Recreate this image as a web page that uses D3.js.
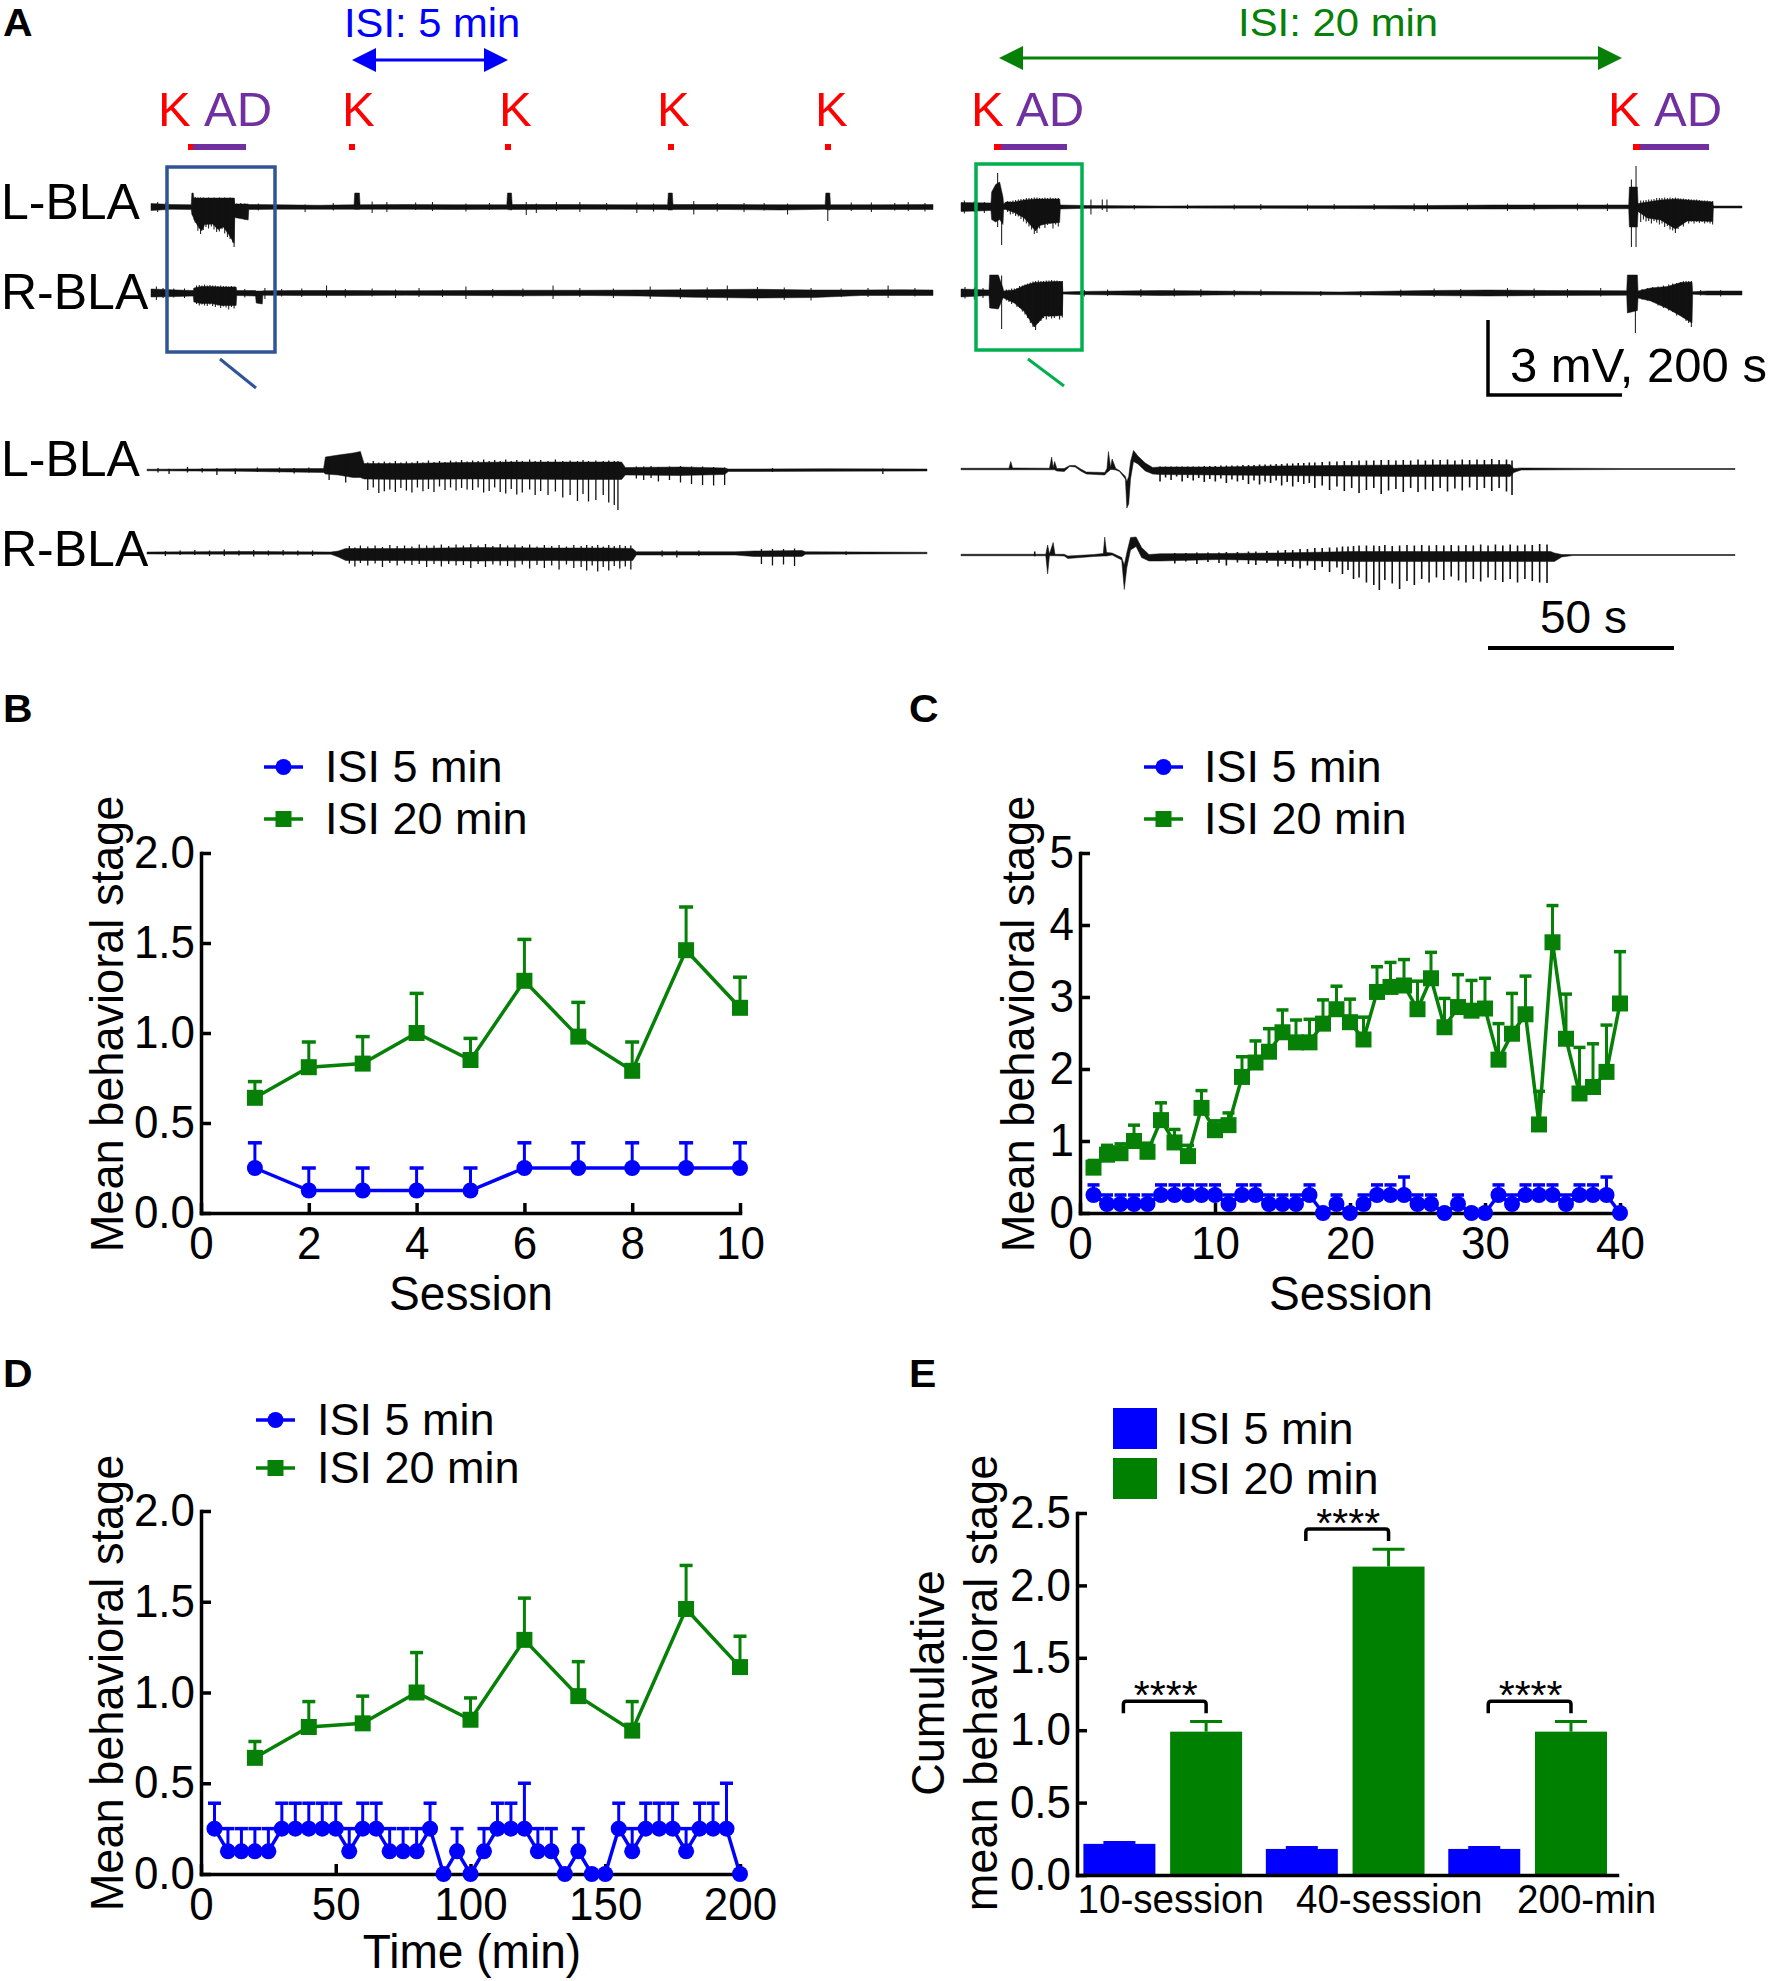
<!DOCTYPE html>
<html>
<head>
<meta charset="utf-8">
<script src="https://cdn.jsdelivr.net/npm/d3@7"></script>
<style>
  html, body { margin: 0; padding: 0; background: #fff; }
  svg { display: block; }
  text { font-family: "Liberation Sans", Arial, sans-serif; }
</style>
</head>
<body>
<div id="chart"></div>
<script>
// ---- behaviour data ----
const seriesNames = ["ISI 5 min", "ISI 20 min"];

const sessions10 = [1, 2, 3, 4, 5, 6, 7, 8, 9, 10];
const stage10Isi5 = [.25, .125, .125, .125, .125, .25, .25, .25, .25, .25];
const upper10Isi5 = [.39, .25, .25, .25, .25, .39, .39, .39, .39, .39];
const stage10Isi20 = [.64, .81, .83, 1.0, .85, 1.29, .98, .79, 1.46, 1.14];
const upper10Isi20 = [.73, .95, .98, 1.22, .97, 1.52, 1.17, .95, 1.70, 1.31];

const sessions40 = d3.range(1, 41);
const stage40Isi5 = [.25, .125, .125, .125, .125, .25, .25, .25, .25, .25,
  .125, .25, .25, .125, .125, .125, .25, 0, .125, 0,
  .125, .25, .25, .25, .125, .125, 0, .125, 0, 0,
  .25, .125, .25, .25, .25, .125, .25, .25, .25, 0];
const upper40Isi5 = [.39, .25, .25, .25, .25, .39, .39, .39, .39, .39,
  .25, .39, .39, .25, .25, .25, .39, 0, .25, 0,
  .25, .39, .39, .5, .25, .25, 0, .25, 0, 0,
  .39, .25, .39, .39, .39, .25, .39, .39, .5, 0];
const stage40Isi20 = [.63, .81, .83, 1.0, .85, 1.29, .98, .79, 1.46, 1.15,
  1.22, 1.89, 2.09, 2.24, 2.51, 2.37, 2.37, 2.63, 2.83, 2.65,
  2.41, 3.07, 3.14, 3.16, 2.83, 3.26, 2.58, 2.86, 2.81, 2.84,
  2.13, 2.49, 2.76, 1.23, 3.76, 2.42, 1.66, 1.75, 1.96, 2.91];
const upper40Isi20 = [.73, .94, .96, 1.22, .97, 1.53, 1.16, .94, 1.70, 1.28,
  1.39, 2.17, 2.39, 2.56, 2.82, 2.68, 2.69, 2.96, 3.15, 2.97,
  2.72, 3.42, 3.48, 3.52, 3.22, 3.62, 2.98, 3.31, 3.23, 3.26,
  2.63, 3.05, 3.29, 1.69, 4.27, 3.04, 2.30, 2.35, 2.61, 3.63];

const minutes5 = d3.range(5, 201, 5);
const minutes20 = d3.range(20, 201, 20);

const groupNames = ["10-session", "40-session", "200-min"];
const cumulativeIsi5 = [.215, .18, .18];
const cumulativeIsi5Upper = [.225, .19, .19];
const cumulativeIsi20 = [.99, 2.13, .99];
const cumulativeIsi20Upper = [1.06, 2.25, 1.06];
const bracketTops = [1.2, 2.39, 1.2];

// ---- recordings: envelope [t s, top mV, bottom mV], hairs [t s, top mV, bottom mV] ----
const overviewLeftL = [[0,.14,-.14],[30,.1,-.09],[60,.09,-.1],[61,.56,-.3],[63,.56,-.4],[64,.36,-.5],[72,.36,-.85],[76,.36,-.95],[80,.36,-.7],[92,.36,-.68],[100,.36,-.9],[108,.36,-.8],[116,.36,-1.1],[124,.36,-1.45],[125,.12,-.42],[145,.12,-.52],[146,.1,-.1],[190,.09,-.09],[250,.07,-.09],[303,.09,-.09],[304,.56,-.1],[311,.56,-.1],[312,.09,-.09],[380,.1,-.09],[450,.09,-.1],[531,.09,-.09],[532,.56,-.1],[538,.56,-.12],[539,.1,-.1],[620,.1,-.09],[700,.09,-.09],[771,.09,-.1],[772,.56,-.12],[778,.56,-.12],[779,.1,-.1],[860,.1,-.1],[940,.09,-.12],[1006,.09,-.09],[1007,.56,-.1],[1013,.56,-.12],[1014,.09,-.1],[1090,.09,-.1],[1167,.1,-.1]];
const overviewLeftLHairs = [[10,.2,-.2],[22,.18,-.14],[66,.4,-.62],[70,.38,-.95],[74,.38,-1.08],[78,.38,-.92],[82,.36,-.8],[86,.38,-.86],[90,.36,-.78],[94,.38,-.9],[98,.36,-1.0],[102,.38,-.98],[106,.36,-.88],[110,.38,-1.06],[114,.36,-1.2],[118,.38,-1.28],[122,.36,-1.42],[124,.36,-1.6],[128,.14,-.36],[134,.16,-.44],[140,.14,-.5],[160,.14,-.14],[185,.2,-.1],[230,.1,-.2],[272,.16,-.14],[330,.22,-.24],[352,.2,-.2],[395,.18,-.12],[420,.2,-.16],[470,.14,-.18],[505,.16,-.12],[560,.2,-.32],[575,.14,-.24],[605,.2,-.16],[640,.2,-.2],[680,.16,-.14],[725,.18,-.24],[750,.14,-.18],[810,.24,-.3],[845,.16,-.18],[885,.16,-.2],[915,.16,-.14],[950,.14,-.3],[1010,.56,-.56],[1045,.18,-.16],[1075,.18,-.2],[1110,.16,-.14],[1130,.2,-.16],[1155,.16,-.18]];
const overviewLeftR = [[0,.16,-.16],[40,.12,-.14],[63,.1,-.12],[64,.2,-.36],[75,.26,-.42],[90,.26,-.42],[105,.24,-.5],[127,.24,-.5],[128,.1,-.1],[156,.1,-.12],[157,.08,-.4],[166,.08,-.44],[167,.09,-.09],[220,.1,-.1],[300,.1,-.1],[380,.09,-.09],[470,.1,-.1],[560,.11,-.11],[650,.11,-.1],[730,.12,-.12],[810,.13,-.17],[900,.15,-.2],[990,.12,-.18],[1060,.12,-.1],[1120,.13,-.1],[1167,.12,-.1]];
const overviewLeftRHairs = [[8,.26,-.28],[18,.2,-.2],[34,.18,-.18],[50,.18,-.2],[68,.3,-.44],[72,.32,-.5],[76,.3,-.46],[80,.34,-.5],[84,.3,-.52],[88,.32,-.46],[92,.3,-.52],[96,.3,-.56],[100,.28,-.5],[104,.3,-.6],[108,.28,-.54],[112,.28,-.58],[116,.26,-.66],[120,.28,-.56],[124,.26,-.62],[140,.16,-.18],[170,.2,-.24],[195,.16,-.14],[225,.18,-.16],[262,.3,-.18],[290,.16,-.18],[330,.18,-.14],[365,.14,-.2],[400,.2,-.16],[435,.14,-.16],[470,.26,-.24],[510,.16,-.18],[555,.18,-.16],[600,.3,-.24],[640,.2,-.16],[690,.18,-.2],[745,.26,-.24],[790,.2,-.24],[830,.22,-.28],[860,.3,-.3],[905,.24,-.3],[945,.22,-.28],[985,.2,-.3],[1030,.18,-.16],[1070,.2,-.16],[1100,.3,-.2],[1140,.2,-.14]];
const overviewRightL = [[0,.18,-.18],[45,.16,-.14],[46,.6,-.5],[52,.9,-.6],[58,1.0,-.5],[63,.4,-.7],[64,.12,-.1],[67,.2,-.1],[80,.2,-.22],[95,.28,-.44],[112,.32,-.96],[118,.32,-.74],[130,.32,-.66],[148,.32,-.62],[149,.08,-.08],[190,.06,-.05],[300,.04,-.04],[430,.05,-.05],[580,.05,-.06],[700,.06,-.08],[800,.08,-.08],[900,.08,-.07],[1002,.08,-.07],[1003,.8,-.8],[1015,.8,-.8],[1016,.14,-.18],[1030,.2,-.44],[1050,.28,-.52],[1072,.32,-.88],[1090,.28,-.56],[1110,.24,-.56],[1128,.2,-.58],[1129,.04,-.04],[1172,.04,-.04]];
const overviewRightLHairs = [[5,.26,-.26],[20,.24,-.2],[35,.2,-.24],[55,1.36,-.8],[61,.5,-1.52],[70,.24,-.2],[74,.22,-.3],[78,.26,-.28],[82,.28,-.36],[86,.3,-.38],[90,.32,-.48],[94,.32,-.58],[98,.36,-.66],[102,.36,-.78],[106,.36,-.9],[110,.38,-1.08],[114,.38,-1.04],[118,.36,-.86],[122,.36,-.7],[126,.38,-.84],[130,.36,-.72],[134,.38,-.66],[138,.36,-.86],[142,.36,-.7],[146,.36,-.78],[195,.3,-.3],[212,.3,-.12],[219,.3,-.2],[260,.08,-.1],[340,.1,-.08],[410,.1,-.1],[450,.12,-.12],[520,.1,-.14],[560,.12,-.1],[620,.12,-.12],[680,.14,-.16],[700,.14,-.18],[760,.16,-.14],[820,.14,-.16],[860,.16,-.14],[925,.14,-.14],[970,.14,-.16],[1006,1.1,-1.6],[1013,1.64,-1.6],[1020,.26,-.6],[1024,.26,-.5],[1028,.28,-.58],[1032,.3,-.56],[1036,.3,-.66],[1040,.32,-.56],[1044,.36,-.62],[1048,.36,-.7],[1052,.36,-.66],[1056,.38,-.8],[1060,.36,-.76],[1064,.38,-.9],[1068,.36,-.94],[1072,.38,-1.04],[1076,.36,-.88],[1080,.34,-.7],[1084,.34,-.78],[1088,.32,-.6],[1092,.32,-.66],[1096,.3,-.58],[1100,.3,-.66],[1104,.3,-.6],[1108,.28,-.64],[1112,.26,-.6],[1116,.26,-.66],[1120,.26,-.62],[1124,.24,-.66],[1128,.24,-.7]];
const overviewRightR = [[0,.16,-.16],[42,.12,-.1],[43,.72,-.6],[56,.72,-.64],[63,.2,-.2],[64,.08,-.2],[80,.12,-.4],[95,.3,-.74],[110,.42,-1.36],[125,.44,-.92],[140,.46,-.92],[152,.46,-.9],[153,.04,-.04],[175,.06,-.06],[300,.1,-.1],[420,.07,-.07],[570,.04,-.07],[700,.1,-.1],[790,.12,-.12],[880,.1,-.1],[999,.09,-.09],[1000,.72,-.8],[1015,.72,-.7],[1016,.08,-.2],[1035,.2,-.32],[1060,.26,-.62],[1080,.42,-.92],[1097,.44,-1.2],[1098,.05,-.05],[1120,.08,-.08],[1172,.08,-.08]];
const overviewRightRHairs = [[6,.24,-.22],[20,.22,-.26],[33,.2,-.2],[61,.7,-1.44],[68,.14,-.3],[72,.14,-.36],[76,.18,-.44],[80,.18,-.4],[84,.2,-.56],[88,.28,-.6],[92,.3,-.74],[96,.34,-.86],[100,.38,-1.0],[104,.42,-1.2],[108,.46,-1.36],[112,.48,-1.48],[116,.5,-1.2],[120,.48,-1.12],[124,.48,-1.0],[128,.5,-1.06],[132,.5,-.96],[136,.52,-1.02],[140,.5,-1.0],[144,.5,-.92],[148,.48,-1.06],[152,.48,-.98],[185,.12,-.14],[220,.14,-.12],[270,.16,-.16],[320,.18,-.14],[360,.16,-.16],[410,.12,-.14],[450,.14,-.12],[540,.08,-.12],[600,.08,-.16],[660,.14,-.16],[710,.18,-.16],[750,.16,-.2],[820,.2,-.18],[860,.18,-.2],[910,.16,-.18],[960,.2,-.14],[1012,.72,-1.6],[1022,.16,-.26],[1030,.2,-.3],[1038,.24,-.36],[1046,.26,-.5],[1054,.3,-.6],[1062,.34,-.7],[1068,.38,-.76],[1074,.4,-.9],[1080,.44,-.86],[1084,.48,-1.0],[1088,.48,-1.12],[1092,.48,-1.2],[1096,.48,-1.36],[1110,.12,-.1],[1140,.12,-.14]];

const detailLeftL = [[0,.03,-.03],[25,.05,-.05],[48,.06,-.1],[48.5,.52,-.16],[52,.6,-.2],[56,.68,-.3],[58,.74,-.3],[59,.26,-.36],[70,.26,-.38],[85,.3,-.36],[100,.32,-.36],[115,.32,-.38],[129,.32,-.38],[130,.1,-.2],[145,.12,-.22],[157,.08,-.18],[158,.04,-.06],[185,.05,-.05],[212,.04,-.04]];
const detailLeftLHairs = [[3,.08,-.1],[6,.05,-.16],[11,.12,-.1],[15,.08,-.1],[19,.08,-.2],[24,.06,-.16],[30,.1,-.08],[36,.1,-.1],[40,.08,-.14],[44,.1,-.1],[49.5,.3,-.4],[54,.6,-.5],[60,.3,-.8],[61.5,.36,-.7],[63,.3,-.92],[64.5,.34,-.85],[66,.3,-.78],[67.5,.36,-.88],[69,.3,-.72],[70.5,.34,-.82],[72,.3,-.9],[73.5,.36,-.7],[75,.3,-.85],[76.5,.38,-.76],[78,.32,-.88],[79.5,.36,-.66],[81,.32,-.8],[82.5,.38,-.7],[84,.34,-.82],[85.5,.4,-.72],[87,.34,-.78],[88.5,.38,-.8],[90,.36,-.7],[91.5,.42,-.9],[93,.36,-.84],[94.5,.4,-.7],[96,.36,-.88],[97.5,.42,-.94],[99,.36,-.76],[100.5,.4,-.98],[102,.36,-.9],[104,.42,-.78],[105.5,.36,-1.0],[107,.4,-.84],[109,.36,-1.0],[111,.42,-.86],[113,.36,-1.1],[115,.38,-1.0],[117,.36,-1.24],[118.5,.4,-.96],[120,.36,-1.26],[122,.38,-1.2],[124,.36,-1.0],[125.5,.38,-1.3],[127,.36,-1.4],[128,.36,-1.6],[133,.14,-.34],[135,.14,-.4],[137,.16,-.32],[139,.12,-.46],[142,.14,-.4],[145,.16,-.5],[148,.14,-.56],[151,.14,-.6],[154,.12,-.62],[157,.1,-.6],[170,.08,-.08],[200,.06,-.16]];
const detailLeftR = [[0,.04,-.04],[25,.06,-.05],[50,.04,-.05],[52,.08,-.16],[54,.18,-.3],[70,.18,-.3],[90,.22,-.32],[110,.2,-.3],[125,.2,-.32],[132,.18,-.3],[133,.05,-.08],[160,.05,-.08],[165,.08,-.14],[178,.1,-.14],[179,.05,-.05],[212,.03,-.03]];
const detailLeftRHairs = [[5,.08,-.12],[9,.1,-.08],[13,.12,-.08],[17,.1,-.12],[21,.14,-.12],[25,.1,-.1],[29,.12,-.14],[33,.1,-.1],[37,.12,-.1],[41,.1,-.1],[45,.1,-.12],[55,.28,-.42],[56.5,.22,-.54],[58,.3,-.4],[60,.26,-.5],[62,.3,-.42],[64,.24,-.56],[66,.32,-.4],[68,.28,-.5],[70,.3,-.42],[72,.26,-.48],[74,.34,-.44],[76,.3,-.56],[78,.3,-.44],[80,.34,-.54],[82,.28,-.44],[84,.34,-.5],[86,.3,-.48],[88,.36,-.6],[90,.3,-.44],[92,.36,-.56],[94,.28,-.46],[96,.36,-.5],[98,.3,-.52],[100,.34,-.58],[102,.28,-.46],[104,.34,-.62],[106,.26,-.48],[108,.32,-.6],[110,.28,-.5],[112,.32,-.66],[114,.26,-.46],[116,.32,-.6],[118,.28,-.56],[119.5,.32,-.7],[121,.28,-.5],[122.5,.32,-.74],[124,.26,-.56],[125.5,.32,-.7],[127,.28,-.52],[128.5,.32,-.62],[130,.28,-.54],[131.5,.3,-.66],[140,.1,-.14],[144,.1,-.18],[150,.1,-.12],[167,.16,-.44],[170,.16,-.5],[173,.16,-.46],[176,.18,-.52],[190,.06,-.08]];
const detailRightL = [[0,.03,-.03],[13,.03,-.03],[13.5,.3,-.03],[14,.04,-.03],[24,.03,-.03],[24.6,.48,-.03],[25,.05,-.03],[25.4,.3,-.03],[26,.02,-.08],[28,.02,-.1],[29.5,.14,.1],[31,.14,.08],[32.5,0,-.08],[34,-.12,-.2],[39,-.14,-.24],[39.6,.02,-.14],[40,.7,-.1],[40.6,.06,-.02],[41,.4,-.02],[42,.02,-.04],[43,-.06,-.1],[44.6,-.3,-.4],[45,-.5,-1.56],[45.5,-.3,-1.4],[46,.3,-.4],[46.8,.74,.3],[48,.52,.2],[50,.24,-.08],[52,.06,-.2],[54,.08,-.22],[70,.08,-.24],[85,.12,-.26],[100,.14,-.28],[120,.16,-.3],[149,.18,-.3],[150,.02,-.14],[152,.04,-.04],[180,.02,-.02],[210,.02,-.02]];
const detailRightLHairs = [[54,.1,-.5],[55.5,.1,-.34],[57,.1,-.44],[58.5,.1,-.3],[60,.1,-.5],[61.5,.1,-.36],[63,.1,-.46],[64.5,.1,-.36],[66,.12,-.52],[67.5,.12,-.4],[69,.12,-.5],[70.5,.14,-.38],[72,.14,-.56],[73.5,.14,-.42],[75,.14,-.5],[76.5,.16,-.44],[78,.16,-.6],[79.5,.16,-.46],[81,.18,-.62],[82.5,.18,-.5],[84,.18,-.56],[85.5,.2,-.46],[87,.2,-.66],[88.5,.22,-.52],[90,.22,-.7],[91.5,.24,-.52],[93,.24,-.6],[94.5,.26,-.56],[96,.26,-.76],[98,.28,-.66],[100,.3,-.84],[102,.3,-.7],[104,.32,-.88],[106,.32,-.76],[108,.34,-.96],[110,.34,-.84],[112,.34,-.76],[114,.36,-1.0],[116,.36,-.86],[118,.34,-.8],[120,.36,-.92],[122,.34,-.76],[124,.38,-.92],[126,.34,-.82],[128,.38,-.88],[130,.36,-.76],[132,.38,-.9],[134,.34,-.78],[136,.38,-.86],[138,.36,-.74],[140,.38,-.84],[142,.36,-.76],[144,.4,-.88],[146,.36,-.76],[148,.38,-.9],[149.5,.34,-1.04]];
const detailRightR = [[0,.03,-.03],[23,.03,-.03],[23.5,.4,-.76],[24,.04,-.03],[25,.5,-.03],[25.5,.03,-.03],[28,.03,-.04],[29,-.04,-.14],[36,.02,-.06],[38.6,.06,-.04],[39,.72,-.04],[39.5,.1,-.04],[41,.08,0],[43.6,-.1,-.2],[44.3,-.4,-1.38],[45,.1,-.5],[46,.7,.2],[47.5,.72,.34],[49,.3,-.1],[51,.02,-.24],[54,.05,-.24],[70,.06,-.18],[85,.08,-.22],[100,.12,-.24],[106,.14,-.26],[160,.14,-.26],[161,.08,-.26],[163,.02,-.08],[166,.02,-.02],[210,.02,-.02]];
const detailRightRHairs = [[20,.14,-.05],[58,.08,-.34],[61,.08,-.26],[64,.1,-.36],[67,.1,-.28],[70,.1,-.32],[72,.12,-.42],[75,.12,-.3],[78,.14,-.36],[80,.14,-.4],[83,.16,-.32],[86,.18,-.46],[88,.2,-.36],[90,.2,-.48],[92,.24,-.54],[94,.24,-.42],[96,.28,-.6],[98,.28,-.48],[100,.3,-.68],[102,.3,-.5],[103.5,.34,-.76],[105,.34,-.6],[106.5,.36,-.96],[108,.38,-.9],[110,.38,-1.1],[112,.38,-1.2],[113.5,.36,-1.4],[115,.4,-1.0],[117,.36,-1.14],[119,.38,-1.36],[121,.4,-1.04],[123,.38,-1.2],[125,.4,-.96],[127,.38,-1.1],[129,.4,-.9],[131,.38,-1.0],[133,.4,-.86],[135,.38,-1.02],[137,.4,-1.1],[139,.38,-.96],[141,.42,-1.06],[143,.38,-.9],[145,.42,-1.0],[147,.38,-1.08],[149,.42,-.96],[151,.38,-1.1],[153,.42,-.96],[155,.4,-1.04],[157,.44,-1.1],[159,.42,-1.12]];

// ---- page ----
const BLUE = "#0000ff", GREEN = "#068006", RED = "#ff0000", PURPLE = "#7030a0";
const svg = d3.select("#chart").append("svg").attr("width", 1774).attr("height", 1981);

// the figure's lettering is a little narrow, so glyphs get squeezed along the baseline
function squeeze(sel, factor) {
  sel.each(function () {
    this.setAttribute("lengthAdjust", "spacingAndGlyphs");
    this.setAttribute("textLength", this.getComputedTextLength() * factor);
  });
}

function label(txt, x, y, size, opts = {}) {
  const t = svg.append("text").text(txt)
    .attr("x", x).attr("y", y)
    .attr("font-size", size)
    .attr("fill", opts.fill || "#000")
    .attr("font-weight", opts.bold ? "bold" : null)
    .attr("text-anchor", opts.anchor || "start");
  if (opts.rotate) t.attr("transform", `rotate(-90 ${x} ${y})`);
  if (opts.squeeze) squeeze(t, opts.squeeze);
  return t;
}

[["A", 3, 36], ["B", 3, 722], ["C", 909, 722], ["D", 3, 1387], ["E", 909, 1387]]
  .forEach(d => label(d[0], d[1], d[2], 39, { bold: true, squeeze: 1.05 }));

// ---- panel A ----
function drawTrace(env, hairs, xStart, xEnd, baseY, tMax, hairWidth) {
  const x = d3.scaleLinear().domain([0, tMax]).range([xStart, xEnd]);
  const y = d3.scaleLinear().domain([-1, 1]).range([baseY + 25, baseY - 25]);
  const area = d3.area().x(d => x(d[0])).y0(d => y(d[1])).y1(d => y(d[2]));
  svg.append("path").attr("d", area(env)).attr("fill", "#111")
    .attr("stroke", "#111").attr("stroke-width", 0.5);
  svg.append("g").selectAll("line").data(hairs).join("line")
    .attr("x1", d => x(d[0])).attr("x2", d => x(d[0]))
    .attr("y1", d => y(d[1])).attr("y2", d => y(d[2]))
    .attr("stroke", "#111").attr("stroke-width", hairWidth);
}

drawTrace(overviewLeftL, overviewLeftLHairs, 151, 933, 207, 1167, 1);
drawTrace(overviewLeftR, overviewLeftRHairs, 151, 933, 293, 1167, 1);
drawTrace(overviewRightL, overviewRightLHairs, 961, 1742, 207, 1172, 1);
drawTrace(overviewRightR, overviewRightRHairs, 961, 1742, 293, 1172, 1);
drawTrace(detailLeftL, detailLeftLHairs, 147, 927, 470, 212, 1.3);
drawTrace(detailLeftR, detailLeftRHairs, 147, 927, 553, 212, 1.3);
drawTrace(detailRightL, detailRightLHairs, 961, 1735, 469, 210, 1.6);
drawTrace(detailRightR, detailRightRHairs, 961, 1735, 555, 210, 1.6);

function arrow(x1, x2, y, color) {
  svg.append("line").attr("x1", x1 + 20).attr("x2", x2 - 20).attr("y1", y).attr("y2", y)
    .attr("stroke", color).attr("stroke-width", 3);
  svg.append("path").attr("fill", color)
    .attr("d", `M${x1},${y}l24,-12v24zM${x2},${y}l-24,-12v24z`);
}
function block(x1, x2, y, color) {
  svg.append("rect").attr("x", x1).attr("y", y - 3).attr("width", x2 - x1).attr("height", 6).attr("fill", color);
}

label("ISI: 5 min", 344, 37, 40.5, { fill: BLUE, squeeze: 1.03 });
arrow(352, 508, 60, BLUE);
label("ISI: 20 min", 1238, 36, 39.5, { fill: GREEN, squeeze: 1.06 });
arrow(999, 1622, 58, GREEN);

[[158, 204, 188, 193, 246], [971, 1016, 994, 1001, 1067], [1608, 1654, 1633, 1640, 1709]].forEach(d => {
  label("K", d[0], 126, 49, { fill: RED });
  label("AD", d[1], 126, 49, { fill: PURPLE });
  block(d[2], d[3], 147, RED);
  block(d[3], d[4], 147, PURPLE);
});
[[342, 349], [499, 505], [657, 668], [815, 825]].forEach(d => {
  label("K", d[0], 126, 49, { fill: RED });
  block(d[1], d[1] + 6, 147, RED);
});

[["L-BLA", 1, 219], ["R-BLA", 1, 309], ["L-BLA", 1, 476], ["R-BLA", 1, 566]]
  .forEach(d => label(d[0], d[1], d[2], 50));

svg.append("rect").attr("x", 167).attr("y", 167).attr("width", 108).attr("height", 185)
  .attr("fill", "none").attr("stroke", "#2f5597").attr("stroke-width", 3.5);
svg.append("line").attr("x1", 220).attr("y1", 359).attr("x2", 256).attr("y2", 388)
  .attr("stroke", "#2f5597").attr("stroke-width", 3);
svg.append("rect").attr("x", 976).attr("y", 164).attr("width", 106).attr("height", 186)
  .attr("fill", "none").attr("stroke", "#00b050").attr("stroke-width", 3.5);
svg.append("line").attr("x1", 1028).attr("y1", 359).attr("x2", 1064).attr("y2", 386)
  .attr("stroke", "#00b050").attr("stroke-width", 3);

svg.append("path").attr("d", "M1488,320V395H1622").attr("fill", "none")
  .attr("stroke", "#000").attr("stroke-width", 3.5);
label("3 mV, 200 s", 1510, 382, 49);
svg.append("line").attr("x1", 1488).attr("x2", 1674).attr("y1", 648).attr("y2", 648)
  .attr("stroke", "#000").attr("stroke-width", 4);
label("50 s", 1540, 633, 46);

// ---- panels B, C, D ----
function styleAxis(g, size, factor) {
  g.attr("font-family", null).attr("font-size", size);
  g.selectAll("text").attr("fill", "#000");
  g.selectAll("path,line").attr("stroke", "#000").attr("stroke-width", 3.5);
  g.select(".domain").attr("stroke-linecap", "square");
  squeeze(g.selectAll("text"), factor);
}

function linePanel(p) {
  const x = d3.scaleLinear().domain(p.xDomain).range(p.xRange);
  const y = d3.scaleLinear().domain(p.yDomain).range(p.yRange);

  svg.append("g").attr("transform", `translate(0,${p.yRange[0]})`)
    .call(d3.axisBottom(x).tickValues(p.xTicks).tickFormat(d3.format("d"))
      .tickSizeInner(-10).tickSizeOuter(0).tickPadding(13))
    .call(styleAxis, 46, .955);
  svg.append("g").attr("transform", `translate(${p.xRange[0]},0)`)
    .call(d3.axisLeft(y).tickValues(p.yTicks).tickFormat(d3.format(p.yFormat))
      .tickSizeInner(-10).tickSizeOuter(0).tickPadding(6))
    .call(styleAxis, 46, .955);

  p.series.forEach(s => {
    const rows = s.xs.map((v, i) => ({ x: v, y: s.ys[i], up: s.ups[i] }));
    const g = svg.append("g").attr("stroke", s.color).attr("fill", s.color);
    g.selectAll("line.err").data(rows).join("line").attr("class", "err")
      .attr("x1", d => x(d.x)).attr("x2", d => x(d.x))
      .attr("y1", d => y(d.y)).attr("y2", d => y(d.up)).attr("stroke-width", 3);
    g.selectAll("line.cap").data(rows).join("line").attr("class", "cap")
      .attr("x1", d => x(d.x) - p.cap).attr("x2", d => x(d.x) + p.cap)
      .attr("y1", d => y(d.up)).attr("y2", d => y(d.up)).attr("stroke-width", 3.5);
    g.append("path").attr("fill", "none").attr("stroke-width", 3.5)
      .attr("d", d3.line().x(d => x(d.x)).y(d => y(d.y))(rows));
    if (s.marker === "circle") {
      g.selectAll("circle").data(rows).join("circle")
        .attr("cx", d => x(d.x)).attr("cy", d => y(d.y)).attr("r", 8).attr("stroke", "none");
    } else {
      g.selectAll("rect").data(rows).join("rect")
        .attr("x", d => x(d.x) - 8).attr("y", d => y(d.y) - 8)
        .attr("width", 16).attr("height", 16).attr("stroke", "none");
    }
  });

  label("Mean behavioral stage", p.titleX, p.titleCy, 47, { anchor: "middle", rotate: true, squeeze: .96 });
  label(p.xTitle, p.xTitleX, p.xTitleY, 49, { anchor: "middle", squeeze: .94 });

  // legend
  const lg = p.legend;
  seriesNames.forEach((name, i) => {
    const color = i ? GREEN : BLUE;
    svg.append("line").attr("x1", lg.x1).attr("x2", lg.x2).attr("y1", lg.ys[i]).attr("y2", lg.ys[i])
      .attr("stroke", color).attr("stroke-width", 3.5);
    const mid = (lg.x1 + lg.x2) / 2;
    if (i === 0) {
      svg.append("circle").attr("cx", mid).attr("cy", lg.ys[i]).attr("r", 8).attr("fill", color);
    } else {
      svg.append("rect").attr("x", mid - 8).attr("y", lg.ys[i] - 8).attr("width", 16).attr("height", 16).attr("fill", color);
    }
    label(name, lg.textX, lg.ys[i] + 15, 45);
  });
}

linePanel({
  xDomain: [0, 10], xRange: [201, 740], yDomain: [0, 2], yRange: [1213, 853],
  xTicks: [0, 2, 4, 6, 8, 10], yTicks: [0, .5, 1, 1.5, 2], yFormat: ".1f", cap: 7,
  series: [
    { xs: sessions10, ys: stage10Isi5, ups: upper10Isi5, color: BLUE, marker: "circle" },
    { xs: sessions10, ys: stage10Isi20, ups: upper10Isi20, color: GREEN, marker: "square" }
  ],
  titleX: 123, titleCy: 1024, xTitle: "Session", xTitleX: 471, xTitleY: 1310,
  legend: { x1: 264, x2: 303, ys: [767, 819], textX: 325 }
});

linePanel({
  xDomain: [0, 40], xRange: [1080, 1620], yDomain: [0, 5], yRange: [1213, 853],
  xTicks: [0, 10, 20, 30, 40], yTicks: [0, 1, 2, 3, 4, 5], yFormat: "d", cap: 6,
  series: [
    { xs: sessions40, ys: stage40Isi20, ups: upper40Isi20, color: GREEN, marker: "square" },
    { xs: sessions40, ys: stage40Isi5, ups: upper40Isi5, color: BLUE, marker: "circle" }
  ],
  titleX: 1034, titleCy: 1024, xTitle: "Session", xTitleX: 1351, xTitleY: 1310,
  legend: { x1: 1144, x2: 1183, ys: [767, 819], textX: 1204 }
});

linePanel({
  xDomain: [0, 200], xRange: [201, 740], yDomain: [0, 2], yRange: [1874, 1511],
  xTicks: [0, 50, 100, 150, 200], yTicks: [0, .5, 1, 1.5, 2], yFormat: ".1f", cap: 6.5,
  series: [
    { xs: minutes20, ys: stage10Isi20, ups: upper10Isi20, color: GREEN, marker: "square" },
    { xs: minutes5, ys: stage40Isi5, ups: upper40Isi5, color: BLUE, marker: "circle" }
  ],
  titleX: 123, titleCy: 1683, xTitle: "Time (min)", xTitleX: 472, xTitleY: 1968,
  legend: { x1: 256, x2: 295, ys: [1420, 1468], textX: 317 }
});

// ---- panel E ----
const yE = d3.scaleLinear().domain([0, 2.5]).range([1875, 1513]);
const xGroup = d3.scaleBand().domain(groupNames).range([1077, 1617])
  .paddingInner(.13).paddingOuter(.045).align(.39);
const xBar = d3.scaleBand().domain(seriesNames).range([0, xGroup.bandwidth()]).paddingInner(.17);
const groupLabelShift = [8, 44, 59];

groupNames.forEach((name, i) => {
  [[seriesNames[0], cumulativeIsi5[i], cumulativeIsi5Upper[i], BLUE],
   [seriesNames[1], cumulativeIsi20[i], cumulativeIsi20Upper[i], "#008000"]].forEach(b => {
    const left = xGroup(name) + xBar(b[0]);
    const mid = left + xBar.bandwidth() / 2;
    svg.append("line").attr("x1", mid).attr("x2", mid).attr("y1", yE(b[1])).attr("y2", yE(b[2]))
      .attr("stroke", b[3]).attr("stroke-width", 3);
    svg.append("line").attr("x1", mid - 16).attr("x2", mid + 16).attr("y1", yE(b[2])).attr("y2", yE(b[2]))
      .attr("stroke", b[3]).attr("stroke-width", 3);
    svg.append("rect").attr("x", left).attr("y", yE(b[1]))
      .attr("width", xBar.bandwidth()).attr("height", yE(0) - yE(b[1])).attr("fill", b[3]);
  });
  const x1 = xGroup(name) + xBar(seriesNames[0]) + xBar.bandwidth() / 2 + 4;
  const x2 = xGroup(name) + xBar(seriesNames[1]) + xBar.bandwidth() / 2;
  const top = yE(bracketTops[i]);
  svg.append("path").attr("fill", "none").attr("stroke", "#000").attr("stroke-width", 3.5)
    .attr("d", `M${x1},${top + 12}V${top + 3}Q${x1},${top} ${x1 + 3},${top}H${x2 - 3}Q${x2},${top} ${x2},${top + 3}V${top + 12}`);
  label("****", (x1 + x2) / 2 + 1, top + 8, 41, { anchor: "middle" });
});

svg.append("g").attr("transform", "translate(0,1875)")
  .call(d3.axisBottom(xGroup).tickSize(0).tickPadding(9))
  .call(styleAxis, 41, .94)
  .selectAll(".tick text").attr("x", (d, i) => groupLabelShift[i]);
svg.append("g").attr("transform", "translate(1077,0)")
  .call(d3.axisLeft(yE).tickValues([0, .5, 1, 1.5, 2, 2.5]).tickFormat(d3.format(".1f"))
    .tickSizeInner(-10).tickSizeOuter(0).tickPadding(6))
  .call(styleAxis, 46, .955);

label("Cumulative", 944, 1683, 47, { anchor: "middle", rotate: true, squeeze: .96 });
label("mean behavioral stage", 997, 1683, 47, { anchor: "middle", rotate: true, squeeze: .96 });

seriesNames.forEach((name, i) => {
  svg.append("rect").attr("x", 1113).attr("y", [1408, 1458][i]).attr("width", 44).attr("height", 41)
    .attr("fill", i ? "#008000" : BLUE);
  label(name, 1176, [1444, 1494][i], 45);
});
</script>
</body>
</html>
